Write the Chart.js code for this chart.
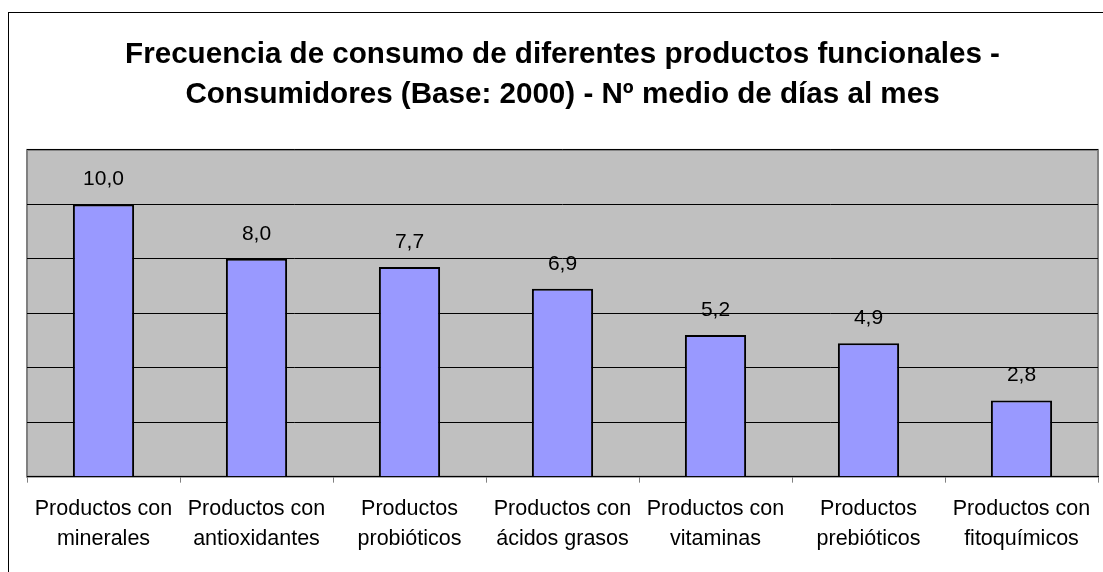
<!DOCTYPE html>
<html>
<head>
<meta charset="utf-8">
<script src="https://cdn.jsdelivr.net/npm/chart.js@4"></script>
<style>
  html, body { margin: 0; padding: 0; background: #fff; }
  #wrap { width: 1103px; height: 572px; }
</style>
</head>
<body>
<div id="wrap"><canvas id="myChart"></canvas></div>
<script>
const categories = [
  ["Productos con", "minerales"],
  ["Productos con", "antioxidantes"],
  ["Productos", "probióticos"],
  ["Productos con", "ácidos grasos"],
  ["Productos con", "vitaminas"],
  ["Productos", "prebióticos"],
  ["Productos con", "fitoquímicos"],
];
const diasMes = [10.0, 8.0, 7.7, 6.9, 5.2, 4.9, 2.8];
const yTicks = [0, 2, 4, 6, 8, 10, 12];
const titleLines = [
  "Frecuencia de consumo de diferentes productos funcionales -",
  "Consumidores (Base: 2000) - Nº medio de días al mes",
];

const canvas = document.getElementById("myChart");
canvas.width = 1103;
canvas.height = 572;
const ctx = canvas.getContext("2d");

// gray plot background + outer frame
const plotBackground = {
  id: "plotBackground",
  beforeDraw(chart) {
    const { ctx: c, chartArea: a } = chart;
    c.save();
    c.strokeStyle = "#000";
    c.lineWidth = 1;
    c.strokeRect(8.5, 12.5, 1200, 700);
    c.fillStyle = "#C0C0C0";
    c.fillRect(a.left, a.top, a.right - a.left, a.bottom - a.top);
    c.strokeStyle = "#808080";
    c.lineWidth = 2;
    c.strokeRect(a.left, a.top, a.right - a.left, a.bottom - a.top);
    c.restore();
  },
};

// value labels above the bars
const valueLabels = {
  id: "valueLabels",
  afterDatasetsDraw(chart) {
    const { ctx: c } = chart;
    const meta = chart.getDatasetMeta(0);
    c.save();
    c.font = "21px 'Liberation Sans', Arial, sans-serif";
    c.fillStyle = "#000";
    c.textAlign = "center";
    c.textBaseline = "alphabetic";
    meta.data.forEach((bar, i) => {
      const txt = diasMes[i].toFixed(1).replace(".", ",");
      c.fillText(txt, bar.x, bar.y - 19);
    });
    c.restore();
  },
};

const myChart = new Chart(ctx, {
  type: "bar",
  data: {
    labels: categories,
    datasets: [
      {
        data: diasMes,
        backgroundColor: "#9999FF",
        borderColor: "#000",
        borderWidth: 2,
        categoryPercentage: 0.8,
        barPercentage: 0.5,
      },
    ],
  },
  plugins: [plotBackground, valueLabels],
  options: {
    responsive: false,
    animation: false,
    devicePixelRatio: 1,
    layout: {
      padding: { left: 27, right: 5, top: 12, bottom: 6 },
    },
    plugins: {
      legend: { display: false },
      tooltip: { enabled: false },
      title: {
        display: true,
        text: titleLines,
        color: "#000",
        font: {
          family: "'Liberation Sans', Arial, sans-serif",
          size: 29.6,
          weight: "bold",
          lineHeight: 1.35,
        },
        padding: { top: 23, bottom: 35 },
      },
    },
    scales: {
      x: {
        grid: {
          display: true,
          drawOnChartArea: false,
          drawTicks: true,
          tickLength: 6,
          color: "#808080",
        },
        border: { display: true, color: "#000", width: 1 },
        ticks: {
          color: "#000",
          padding: 12,
          maxRotation: 0,
          autoSkip: false,
          font: {
            family: "'Liberation Sans', Arial, sans-serif",
            size: 21.5,
            lineHeight: 1.38,
          },
        },
      },
      y: {
        min: yTicks[0],
        max: yTicks[yTicks.length - 1],
        afterBuildTicks: (axis) => {
          axis.ticks = yTicks.map((v) => ({ value: v }));
        },
        grid: {
          display: true,
          drawTicks: false,
          color: "#000",
          lineWidth: 1,
        },
        border: { display: false },
        ticks: { display: false },
      },
    },
  },
});
</script>
</body>
</html>
